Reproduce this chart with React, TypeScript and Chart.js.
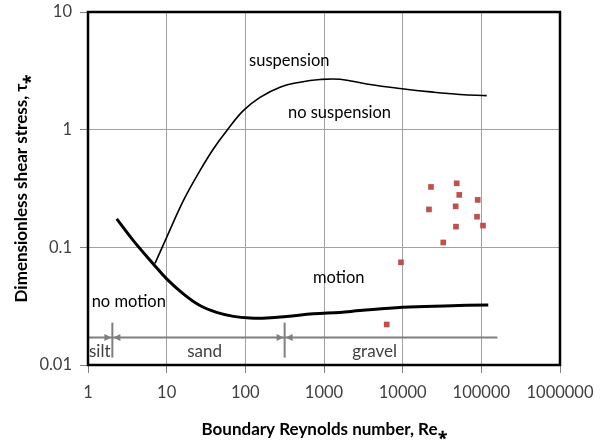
import React, { useEffect, useRef } from "react";
import { Chart, registerables } from "chart.js";

Chart.register(...registerables);

// Axis ticks
const xTickValues = [1, 10, 100, 1000, 10000, 100000, 1000000];
const xTickLabels = ["1", "10", "100", "1000", "10000", "100000", "1000000"];
const yTickValues = [0.01, 0.1, 1, 10];
const yTickLabels = ["0.01", "0.1", "1", "10"];

// Threshold of motion (Shields curve)
const shieldsRe = [2.32, 3.77, 6.76, 10.0, 16.3, 26.5, 43.1, 70.7, 115, 188, 334, 731, 1597, 2868, 10000, 34000, 122500];
const shieldsTau = [0.1743, 0.114, 0.0723, 0.0539, 0.0402, 0.032, 0.028, 0.0259, 0.0251, 0.0251, 0.0258, 0.0272, 0.028, 0.029, 0.0309, 0.0318, 0.0324];

// Threshold of suspension
const suspRe = [7.11, 10.0, 16.3, 26.5, 39.2, 58.0, 94.2, 153.6, 275.8, 495, 889, 1597, 3488, 9247, 24500, 53500, 117000];
const suspTau = [0.0731, 0.1216, 0.2493, 0.4484, 0.6856, 0.9806, 1.45, 1.881, 2.296, 2.533, 2.67, 2.681, 2.445, 2.239, 2.083, 1.991, 1.945];

// Observed data
const obsRe = [22900, 48600, 52400, 89900, 21600, 47200, 88100, 105000, 47600, 32800, 9520, 6270];
const obsTau = [0.326, 0.35, 0.279, 0.253, 0.21, 0.223, 0.182, 0.153, 0.15, 0.11, 0.0746, 0.0221];

// Region labels
const regionLabels = ["suspension", "no suspension", "motion", "no motion"];
const regionRe = [362, 1574, 1542, 3.3];
const regionTau = [3.5, 1.257, 0.0494, 0.0313];

// Grain size classes
const grainLabels = ["silt", "sand", "gravel"];
const grainLabelRe = [1.41, 30.4, 4400];
const grainLabelTau = 0.01162;
const grainBoundaryRe = [2.04, 316];
const grainLineTau = 0.0171;
const grainLineRange = [1, 160000];

const FONT = "Lato, 'Open Sans', sans-serif";

const decorPlugin = {
  id: "decor",
  beforeDatasetsDraw(chart: any) {
    const { ctx, chartArea } = chart;
    const xs = chart.scales.x;
    const ys = chart.scales.y;
    ctx.save();
    // grain size annotation line
    const ly = ys.getPixelForValue(grainLineTau);
    const lx0 = xs.getPixelForValue(grainLineRange[0]);
    const lx1 = xs.getPixelForValue(grainLineRange[1]);
    ctx.strokeStyle = "#7f7f7f";
    ctx.fillStyle = "#7f7f7f";
    ctx.lineWidth = 2;
    ctx.beginPath();
    ctx.moveTo(lx0, ly);
    ctx.lineTo(lx1, ly);
    ctx.stroke();
    grainBoundaryRe.forEach((re) => {
      const bx = xs.getPixelForValue(re);
      ctx.beginPath();
      ctx.moveTo(bx, ly - 15);
      ctx.lineTo(bx, ly + 20);
      ctx.stroke();
      ctx.beginPath();
      ctx.moveTo(bx - 1, ly);
      ctx.lineTo(bx - 8, ly - 3.5);
      ctx.lineTo(bx - 8, ly + 3.5);
      ctx.closePath();
      ctx.fill();
      ctx.beginPath();
      ctx.moveTo(bx + 1, ly);
      ctx.lineTo(bx + 8, ly - 3.5);
      ctx.lineTo(bx + 8, ly + 3.5);
      ctx.closePath();
      ctx.fill();
    });
    ctx.fillStyle = "#404040";
    ctx.font = `17px ${FONT}`;
    ctx.textAlign = "center";
    ctx.textBaseline = "alphabetic";
    grainLabels.forEach((t, i) => {
      ctx.fillText(t, xs.getPixelForValue(grainLabelRe[i]), ys.getPixelForValue(grainLabelTau));
    });
    // region labels
    ctx.fillStyle = "#000";
    ctx.font = `16.5px ${FONT}`;
    regionLabels.forEach((t, i) => {
      ctx.fillText(t, xs.getPixelForValue(regionRe[i]), ys.getPixelForValue(regionTau[i]));
    });
    // frame
    ctx.strokeStyle = "#000";
    ctx.lineWidth = 2.5;
    ctx.strokeRect(chartArea.left, chartArea.top, chartArea.right - chartArea.left, chartArea.bottom - chartArea.top);
    ctx.restore();
  },
};

const zeroPad = (s: any) => {
  s.paddingTop = 0;
  s.paddingBottom = 0;
  s.paddingLeft = 0;
  s.paddingRight = 0;
};

export default function App() {
  const ref = useRef<HTMLCanvasElement | null>(null);

  useEffect(() => {
    if (!ref.current) return;
    const chart = new Chart(ref.current, {
      type: "scatter",
      data: {
        datasets: [
          {
            label: "motion threshold",
            data: shieldsRe.map((x, i) => ({ x, y: shieldsTau[i] })),
            showLine: true,
            borderColor: "#000",
            borderWidth: 3,
            pointRadius: 0,
            tension: 0.4,
            fill: false,
          },
          {
            label: "suspension threshold",
            data: suspRe.map((x, i) => ({ x, y: suspTau[i] })),
            showLine: true,
            borderColor: "#000",
            borderWidth: 1.6,
            pointRadius: 0,
            tension: 0.4,
            fill: false,
          },
          {
            label: "data",
            data: obsRe.map((x, i) => ({ x, y: obsTau[i] })),
            showLine: false,
            backgroundColor: "#c0504d",
            borderColor: "#c0504d",
            borderWidth: 0,
            pointStyle: "rect",
            pointRadius: 4,
          },
        ],
      },
      options: {
        responsive: false,
        animation: false,
        devicePixelRatio: 1,
        layout: { padding: { left: 0, right: 41, top: 12, bottom: 0 } },
        plugins: {
          legend: { display: false },
          tooltip: { enabled: false },
          title: { display: false },
        },
        scales: {
          x: {
            type: "logarithmic",
            position: "bottom",
            min: 1,
            max: 1000000,
            afterBuildTicks: (s: any) => {
              s.ticks = xTickValues.map((v) => ({ value: v }));
            },
            afterFit: (s: any) => {
              s.height = 78;
              zeroPad(s);
            },
            ticks: {
              autoSkip: false,
              maxRotation: 0,
              padding: 10,
              color: "#404040",
              font: { family: FONT, size: 16.5 },
              callback: (v: any) => xTickLabels[xTickValues.indexOf(Number(v))] ?? "",
            },
            grid: { color: "#a0a0a0", lineWidth: 1, tickLength: 8, tickColor: "#808080" },
            border: { display: false },
            title: {
              display: true,
              text: "Boundary Reynolds number, Re⁎",
              color: "#000",
              font: { family: FONT, size: 17, weight: "bold" },
              padding: { top: 0, bottom: 3 },
            },
          },
          y: {
            type: "logarithmic",
            position: "left",
            min: 0.01,
            max: 10,
            afterBuildTicks: (s: any) => {
              s.ticks = yTickValues.map((v) => ({ value: v }));
            },
            afterFit: (s: any) => {
              s.width = 88;
              zeroPad(s);
            },
            ticks: {
              autoSkip: false,
              padding: 8,
              color: "#404040",
              font: { family: FONT, size: 16.5 },
              callback: (v: any) => yTickLabels[yTickValues.indexOf(Number(v))] ?? "",
            },
            grid: { color: "#a0a0a0", lineWidth: 1, tickLength: 8, tickColor: "#808080" },
            border: { display: false },
            title: {
              display: true,
              text: "Dimensionless shear stress, τ⁎",
              color: "#000",
              font: { family: FONT, size: 17, weight: "bold" },
              padding: { top: 11, bottom: 0 },
            },
          },
        },
      },
      plugins: [decorPlugin],
    } as any);
    return () => chart.destroy();
  }, []);

  return (
    <div style={{ position: "fixed", left: 0, top: 0, width: 601, height: 443, background: "#fff" }}>
      <canvas ref={ref} width={601} height={443} style={{ width: 601, height: 443, display: "block" }} />
    </div>
  );
}
